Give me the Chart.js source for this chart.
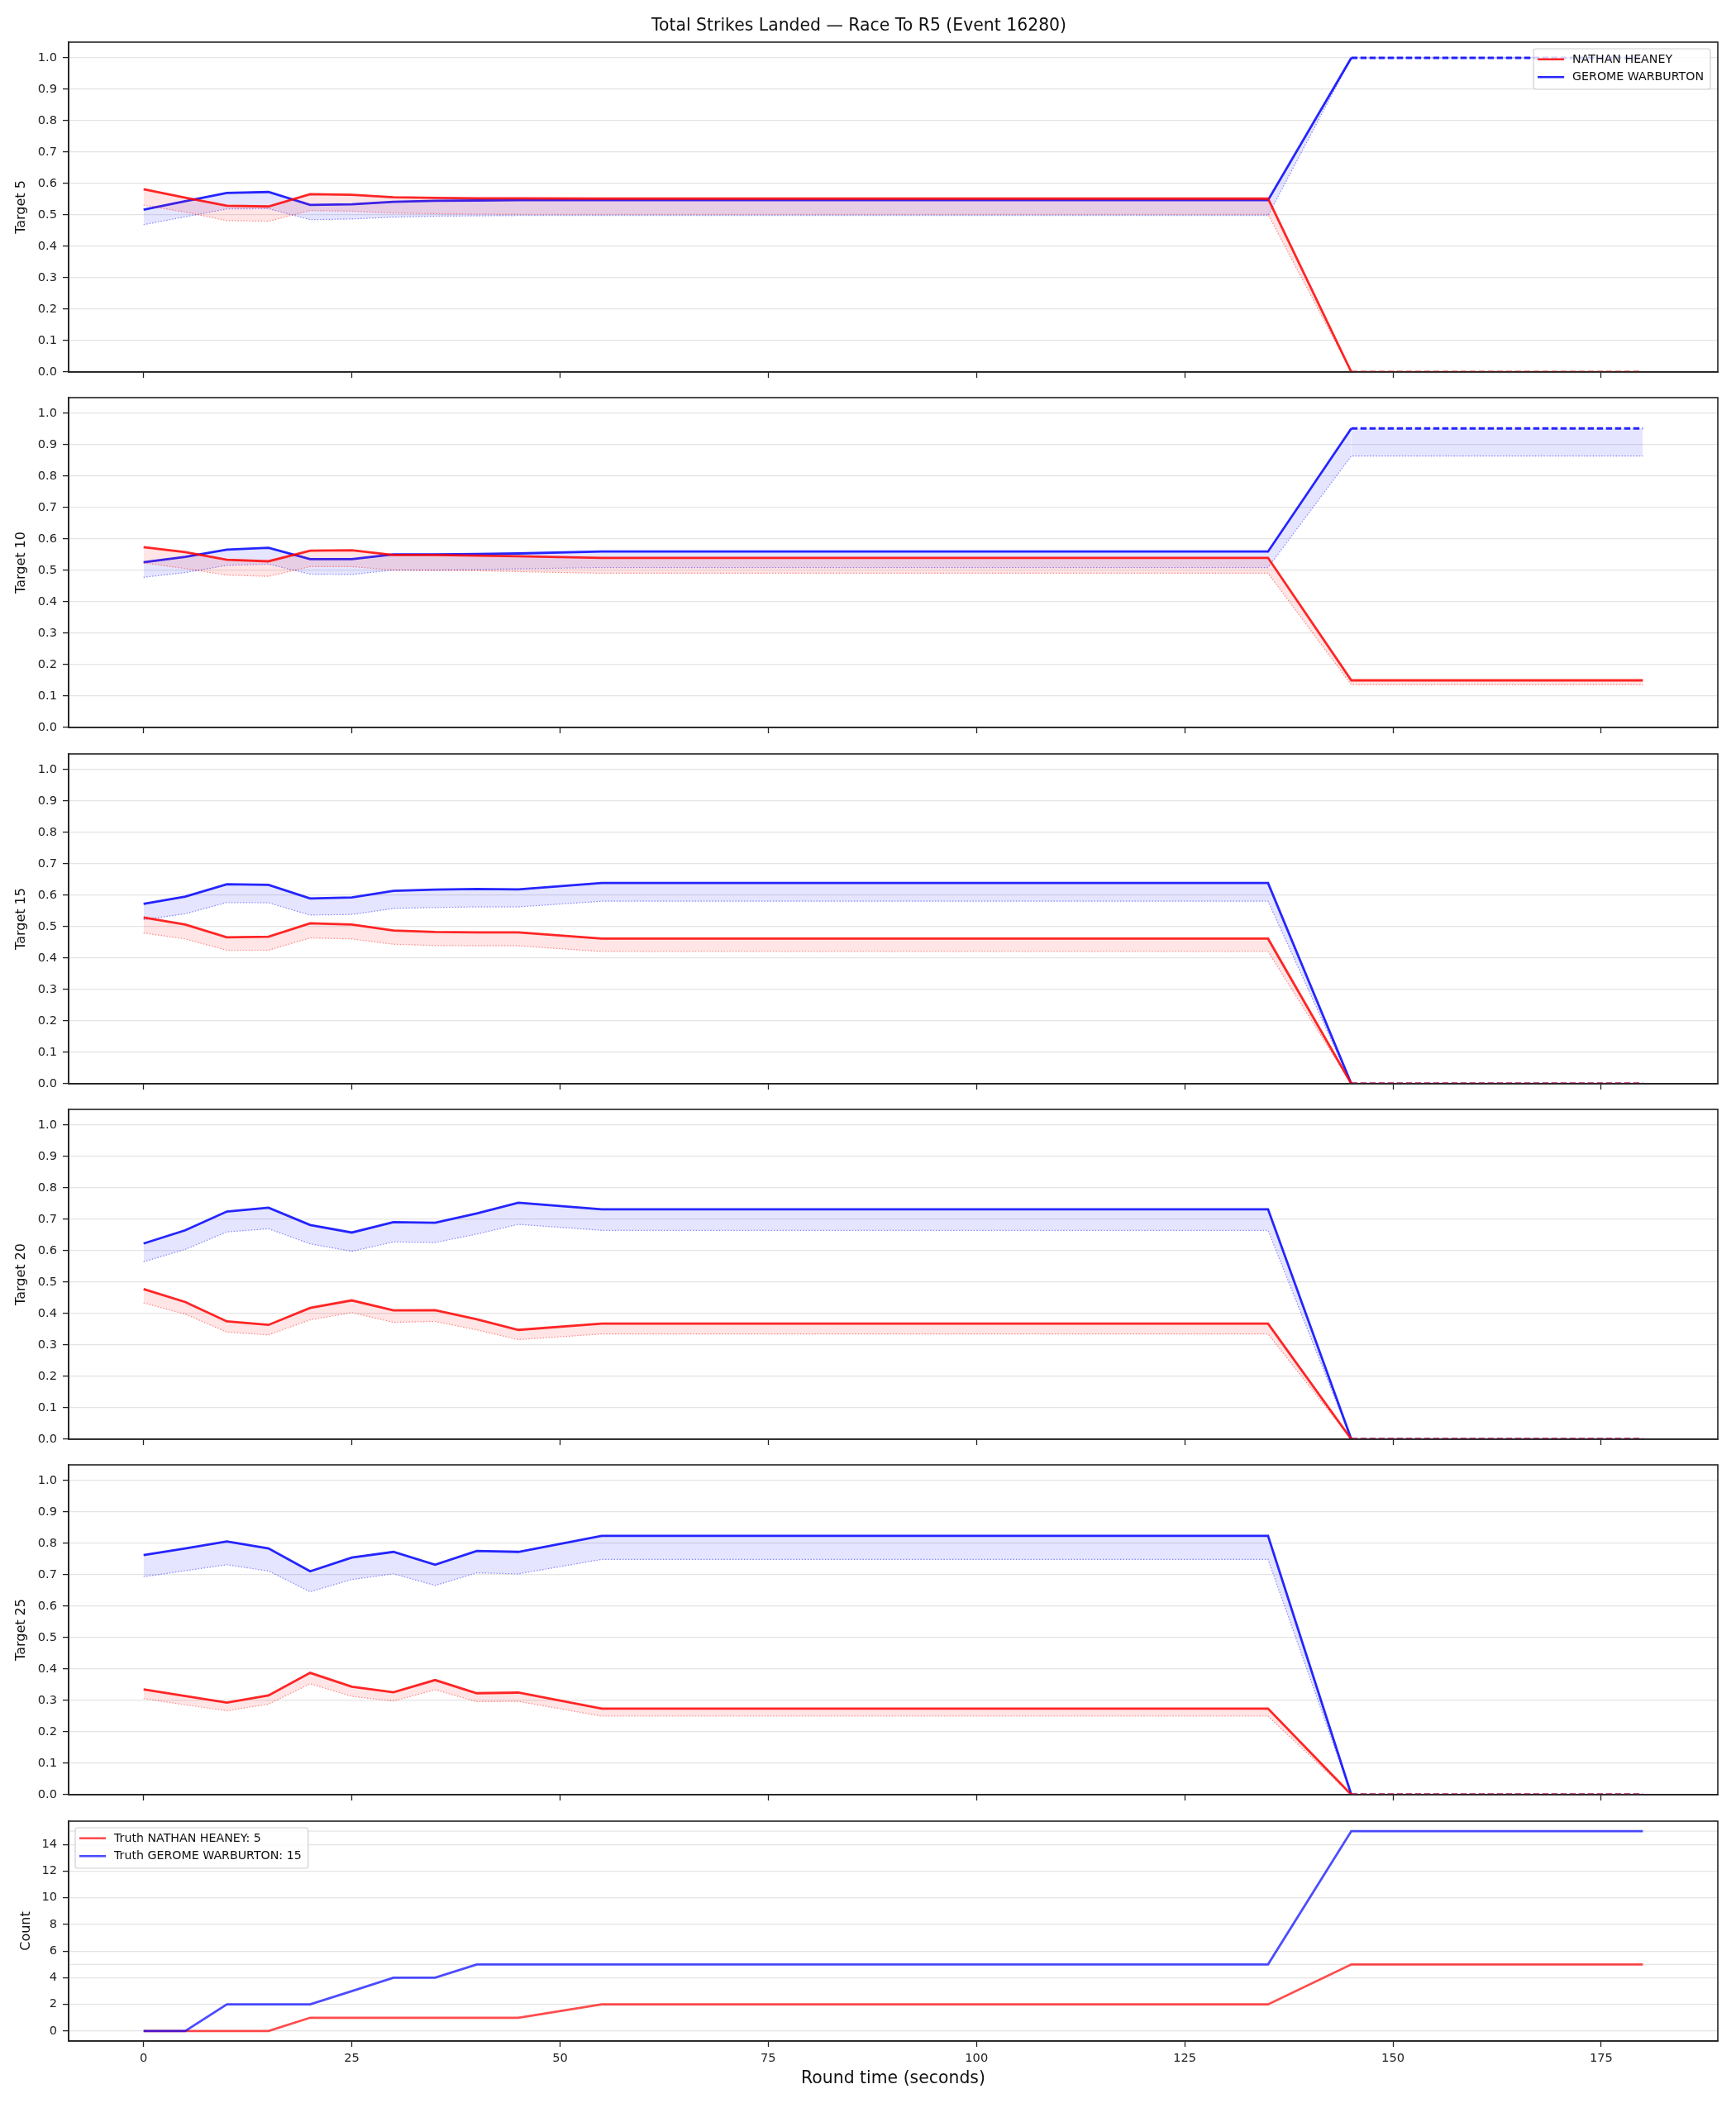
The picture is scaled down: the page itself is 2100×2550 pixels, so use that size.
<!DOCTYPE html>
<html>
<head>
<meta charset="utf-8">
<title>Total Strikes Landed</title>
<script src="https://cdn.jsdelivr.net/npm/chart.js@4.4.1/dist/chart.umd.min.js"></script>
<style>
  body { margin: 0; background: #fff; }
  #wrap { position: relative; width: 2100px; height: 2550px; }
  #wrap canvas { position: absolute; left: 0; }
</style>
</head>
<body>
<div id="wrap"></div>
<script>
// --- data ---
const fighters = ['NATHAN HEANEY', 'GEROME WARBURTON'];
const truthTotals = [5, 15];
const targets = [5, 10, 15, 20, 25];
const times = [0, 5, 10, 15, 20, 25, 30, 35, 40, 45, 55, 135, 145, 180];
const settleTime = 145;
const xTicks = [0, 25, 50, 75, 100, 125, 150, 175];
const probTicks = [0, 0.1, 0.2, 0.3, 0.4, 0.5, 0.6, 0.7, 0.8, 0.9, 1.0];
const countTicks = [0, 2, 4, 6, 8, 10, 12, 14];

const heaneyT5     = [0.582, 0.555, 0.529, 0.527, 0.566, 0.564, 0.556, 0.554, 0.553, 0.553, 0.552, 0.552, 0, 0];
const heaneyT5Low  = [0.531, 0.509, 0.482, 0.480, 0.514, 0.512, 0.506, 0.504, 0.503, 0.502, 0.502, 0.502, 0, 0];
const warbT5       = [0.517, 0.544, 0.570, 0.573, 0.532, 0.534, 0.542, 0.545, 0.546, 0.547, 0.547, 0.547, 1, 1];
const warbT5Low    = [0.469, 0.494, 0.519, 0.520, 0.485, 0.487, 0.493, 0.496, 0.497, 0.498, 0.498, 0.498, 1, 1];

const heaneyT10    = [0.574, 0.558, 0.534, 0.529, 0.563, 0.564, 0.549, 0.549, 0.547, 0.545, 0.540, 0.540, 0.150, 0.150];
const heaneyT10Low = [0.524, 0.506, 0.485, 0.481, 0.512, 0.512, 0.501, 0.500, 0.499, 0.496, 0.491, 0.491, 0.136, 0.136];
const warbT10      = [0.526, 0.543, 0.566, 0.572, 0.536, 0.536, 0.551, 0.551, 0.552, 0.554, 0.560, 0.560, 0.952, 0.952];
const warbT10Low   = [0.478, 0.493, 0.516, 0.520, 0.488, 0.487, 0.501, 0.501, 0.503, 0.505, 0.509, 0.509, 0.864, 0.864];

const heaneyT15    = [0.529, 0.507, 0.466, 0.468, 0.511, 0.507, 0.488, 0.483, 0.482, 0.482, 0.462, 0.462, 0, 0];
const heaneyT15Low = [0.480, 0.461, 0.425, 0.425, 0.464, 0.461, 0.444, 0.440, 0.439, 0.439, 0.421, 0.421, 0, 0];
const warbT15      = [0.573, 0.596, 0.635, 0.633, 0.590, 0.593, 0.614, 0.618, 0.620, 0.619, 0.639, 0.639, 0, 0];
const warbT15Low   = [0.522, 0.541, 0.577, 0.576, 0.537, 0.539, 0.558, 0.561, 0.563, 0.563, 0.581, 0.581, 0, 0];

const heaneyT20    = [0.478, 0.437, 0.375, 0.364, 0.418, 0.442, 0.410, 0.411, 0.382, 0.348, 0.368, 0.368, 0, 0];
const heaneyT20Low = [0.434, 0.398, 0.341, 0.332, 0.380, 0.403, 0.372, 0.375, 0.348, 0.317, 0.335, 0.335, 0, 0];
const warbT20      = [0.623, 0.665, 0.725, 0.737, 0.682, 0.658, 0.691, 0.689, 0.719, 0.753, 0.732, 0.732, 0, 0];
const warbT20Low   = [0.565, 0.604, 0.660, 0.670, 0.622, 0.598, 0.628, 0.626, 0.653, 0.684, 0.665, 0.665, 0, 0];

const heaneyT25    = [0.335, 0.314, 0.293, 0.316, 0.388, 0.344, 0.326, 0.365, 0.323, 0.325, 0.274, 0.274, 0, 0];
const heaneyT25Low = [0.306, 0.286, 0.267, 0.288, 0.353, 0.313, 0.298, 0.334, 0.296, 0.297, 0.250, 0.250, 0, 0];
const warbT25      = [0.763, 0.784, 0.806, 0.784, 0.711, 0.755, 0.773, 0.732, 0.776, 0.773, 0.824, 0.824, 0, 0];
const warbT25Low   = [0.694, 0.713, 0.732, 0.712, 0.646, 0.685, 0.703, 0.666, 0.706, 0.703, 0.749, 0.749, 0, 0];

const heaneyCount  = [0, 0, 0, 0, 1, 1, 1, 1, 1, 1, 2, 2, 5, 5];
const warbCount    = [0, 0, 2, 2, 2, 3, 4, 4, 5, 5, 5, 5, 15, 15];

// whether the line turns dashed once the round is settled (per target panel)
const heaneyDashed = [true, false, true, true, true];
const warbDashed   = [true, true, true, true, true];

// --- styling / layout ---
const FONT = "'DejaVu Sans', sans-serif";
const RED = 'rgba(255,0,0,0.85)', BLUE = 'rgba(0,0,255,0.85)';
const RED_LOW = 'rgba(255,0,0,0.45)', BLUE_LOW = 'rgba(0,0,255,0.45)';
const RED_FILL = 'rgba(255,0,0,0.1)', BLUE_FILL = 'rgba(0,0,255,0.1)';
const X_MIN = -9, X_MAX = 189;

Chart.defaults.font.family = FONT;
Chart.defaults.color = '#222';

const wrap = document.getElementById('wrap');

function pts(arr) {
    return times.map((t, i) => ({ x: t, y: arr[i] }));
}

function dashAfterSettle(on) {
    return ctx => (on && ctx.p0.parsed.x >= settleTime) ? [7.5, 3.5] : undefined;
}

// frame round the plot area + matplotlib-like legend box
const framePlugin = {
    id: 'frameLegend',
    afterDraw(chart, args, opts) {
        const ctx = chart.ctx, a = chart.chartArea;
        ctx.save();
        ctx.strokeStyle = '#222';
        ctx.lineWidth = 1.6;
        ctx.strokeRect(a.left, a.top, a.right - a.left, a.bottom - a.top);
        if (opts.items) {
            ctx.font = '14.2px ' + FONT;
            const textW = Math.max(...opts.items.map(it => ctx.measureText(it.text).width));
            const w = 5 + 32 + 10 + textW + 8;
            const h = 49;
            const x = opts.side === 'right' ? a.right - 9 - w : a.left + 8;
            const y = a.top + 8;
            ctx.beginPath();
            ctx.roundRect(x, y, w, h, 3);
            ctx.fillStyle = 'rgba(255,255,255,0.8)';
            ctx.fill();
            ctx.strokeStyle = '#d0d0d0';
            ctx.lineWidth = 1.2;
            ctx.stroke();
            opts.items.forEach((it, i) => {
                const cy = y + 12.7 + i * 21.6;
                ctx.beginPath();
                ctx.moveTo(x + 5, cy);
                ctx.lineTo(x + 37, cy);
                ctx.strokeStyle = it.color;
                ctx.lineWidth = 2.6;
                ctx.stroke();
                ctx.fillStyle = '#111';
                ctx.textBaseline = 'middle';
                ctx.fillText(it.text, x + 47, cy + 0.5);
            });
        }
        ctx.restore();
    }
};

function makePanel(p) {
    const canvas = document.createElement('canvas');
    canvas.width = 2100;
    canvas.height = p.height;
    canvas.style.width = '2100px';
    canvas.style.height = p.height + 'px';
    canvas.style.top = p.top + 'px';
    wrap.appendChild(canvas);

    return new Chart(canvas, {
        type: 'line',
        data: { datasets: p.datasets },
        options: {
            responsive: false,
            animation: false,
            devicePixelRatio: 1,
            events: [],
            layout: { padding: { top: p.padTop, right: 22, left: 0, bottom: 0 } },
            elements: { point: { radius: 0 }, line: { tension: 0 } },
            plugins: {
                legend: { display: false },
                tooltip: { enabled: false },
                title: p.title ? {
                    display: true,
                    text: p.title,
                    font: { size: 20.4, weight: 'normal' },
                    color: '#111',
                    padding: { top: 19.75, bottom: 6.75 }
                } : { display: false },
                frameLegend: p.legend || {}
            },
            scales: {
                x: {
                    type: 'linear',
                    min: X_MIN,
                    max: X_MAX,
                    afterBuildTicks: s => { s.ticks = xTicks.map(v => ({ value: v })); },
                    afterFit: s => { s.height = p.xAxisH; s.paddingLeft = 0; s.paddingRight = 0; },
                    ticks: {
                        display: !!p.xLabels,
                        font: { size: 14.6 },
                        color: '#222',
                        padding: 5,
                        maxRotation: 0,
                        callback: v => String(v)
                    },
                    grid: { drawOnChartArea: false, tickLength: 7, tickColor: '#222', tickWidth: 1.3 },
                    border: { color: '#222', width: 1.6 },
                    title: p.xTitle ? {
                        display: true,
                        text: p.xTitle,
                        font: { size: 20.4 },
                        color: '#111',
                        padding: { top: 0, bottom: 2.75 }
                    } : { display: false }
                },
                y: {
                    type: 'linear',
                    min: p.yMin,
                    max: p.yMax,
                    afterBuildTicks: s => { s.ticks = p.yTicks.map(v => ({ value: v })); },
                    afterFit: s => { s.width = 83; s.paddingTop = 0; s.paddingBottom = 0; },
                    ticks: {
                        font: { size: 14.6 },
                        color: '#222',
                        padding: 7,
                        callback: p.yFormat
                    },
                    grid: { color: '#e4e4e4', lineWidth: 1.2, tickLength: 7, tickColor: '#222', tickWidth: 1.3 },
                    border: { color: '#222', width: 1.6 },
                    title: {
                        display: true,
                        text: p.yTitle,
                        font: { size: 16 },
                        color: '#111',
                        padding: { top: p.yTitlePad, bottom: 0 }
                    }
                }
            }
        },
        plugins: [framePlugin]
    });
}

function probDatasets(k, red, redLow, blue, blueLow) {
    return [
        { data: pts(redLow), borderColor: RED_LOW, borderWidth: 1.2, borderDash: [1.5, 2], fill: false },
        { data: pts(red), borderColor: RED, borderWidth: 2.8, fill: '-1', backgroundColor: RED_FILL,
          segment: { borderDash: dashAfterSettle(heaneyDashed[k]) } },
        { data: pts(blueLow), borderColor: BLUE_LOW, borderWidth: 1.2, borderDash: [1.5, 2], fill: false },
        { data: pts(blue), borderColor: BLUE, borderWidth: 2.8, fill: '-1', backgroundColor: BLUE_FILL,
          segment: { borderDash: dashAfterSettle(warbDashed[k]) } }
    ];
}

const probSeries = [
    [heaneyT5, heaneyT5Low, warbT5, warbT5Low],
    [heaneyT10, heaneyT10Low, warbT10, warbT10Low],
    [heaneyT15, heaneyT15Low, warbT15, warbT15Low],
    [heaneyT20, heaneyT20Low, warbT20, warbT20Low],
    [heaneyT25, heaneyT25Low, warbT25, warbT25Low]
];

const panelTops = [51, 481, 912, 1342, 1772];
const probPlotH = 399;

targets.forEach((t, k) => {
    const first = k === 0;
    const s = probSeries[k];
    makePanel({
        top: first ? 0 : panelTops[k] - 3,
        height: first ? panelTops[0] + probPlotH + 10 : 3 + probPlotH + 10,
        padTop: first ? 0 : 3,
        title: first ? 'Total Strikes Landed \u2014 Race To R5 (Event 16280)' : null,
        xAxisH: 10,
        xLabels: false,
        yMin: 0,
        yMax: 1.05,
        yTicks: probTicks,
        yFormat: v => v.toFixed(1),
        yTitle: 'Target ' + t,
        yTitlePad: 15.9,
        legend: first ? {
            side: 'right',
            items: [{ text: fighters[0], color: RED }, { text: fighters[1], color: BLUE }]
        } : {},
        datasets: probDatasets(k, s[0], s[1], s[2], s[3])
    });
});

// count panel (first dataset is drawn on top, so blue comes first)
const COUNT_RED = 'rgba(255,0,0,0.7)', COUNT_BLUE = 'rgba(0,0,255,0.7)';
makePanel({
    top: 2200,
    height: 3 + 266 + 61,
    padTop: 3,
    xAxisH: 61,
    xLabels: true,
    xTitle: 'Round time (seconds)',
    yMin: -0.75,
    yMax: 15.75,
    yTicks: countTicks,
    yFormat: v => String(v),
    yTitle: 'Count',
    yTitlePad: 22.4,
    legend: {
        side: 'left',
        items: [
            { text: 'Truth ' + fighters[0] + ': ' + truthTotals[0], color: COUNT_RED },
            { text: 'Truth ' + fighters[1] + ': ' + truthTotals[1], color: COUNT_BLUE }
        ]
    },
    datasets: [
        { data: pts(warbCount), borderColor: COUNT_BLUE, borderWidth: 2.8, fill: false },
        { data: pts(heaneyCount), borderColor: COUNT_RED, borderWidth: 2.8, fill: false },
        // faint reference lines at the final totals
        ...truthTotals.map(v => ({
            data: [{ x: X_MIN, y: v }, { x: X_MAX, y: v }],
            borderColor: '#e4e4e4', borderWidth: 1.2, fill: false
        }))
    ]
});
</script>
</body>
</html>
